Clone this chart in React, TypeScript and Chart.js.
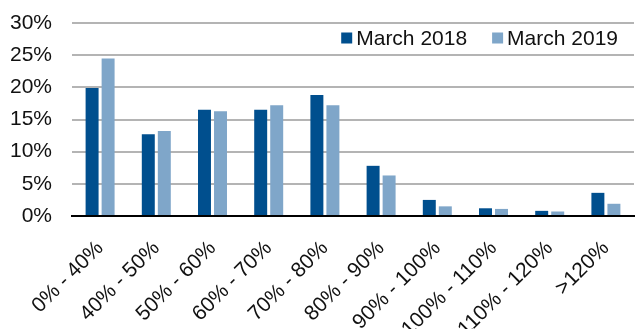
import React, { useEffect, useRef } from "react";
import { Chart, registerables } from "chart.js";

Chart.register(...registerables);

const categories = [
  "0% - 40%",
  "40% - 50%",
  "50% - 60%",
  "60% - 70%",
  "70% - 80%",
  "80% - 90%",
  "90% - 100%",
  "100% - 110%",
  "110% - 120%",
  ">120%",
];

const march2018 = [19.9, 12.7, 16.5, 16.5, 18.8, 7.8, 2.5, 1.2, 0.8, 3.6];
const march2019 = [24.5, 13.2, 16.3, 17.2, 17.2, 6.3, 1.5, 1.1, 0.7, 1.9];

const yTicks = [0, 5, 10, 15, 20, 25, 30];

const DARK = "#004F8E";
const LIGHT = "#7FA6C9";
const FONT = "'Liberation Sans', Arial, sans-serif";
const FONT_SIZE = 21;

// Legend drawn in the top-right corner of the plot area.
const cornerLegend = {
  id: "cornerLegend",
  afterDraw(chart: Chart) {
    const { ctx, chartArea } = chart;
    const sets = chart.data.datasets;
    ctx.save();
    ctx.font = `${FONT_SIZE}px ${FONT}`;
    ctx.textBaseline = "middle";
    const box = 11;
    const gap = 4;
    const spacing = 25;
    const widths = sets.map((d) => box + gap + ctx.measureText(String(d.label)).width);
    const total = widths.reduce((a, b) => a + b, 0) + spacing * (sets.length - 1);
    let x = chartArea.right - 16 - total;
    const cy = chartArea.top + 16;
    sets.forEach((d, i) => {
      ctx.fillStyle = String(d.backgroundColor);
      ctx.fillRect(x, cy - box / 2 - 1, box, box);
      ctx.fillStyle = "#111";
      ctx.fillText(String(d.label), x + box + gap, cy);
      x += widths[i] + spacing;
    });
    ctx.restore();
  },
};

export default function App() {
  const ref = useRef<HTMLCanvasElement>(null);

  useEffect(() => {
    if (!ref.current) return;
    const chart = new Chart(ref.current, {
      type: "bar",
      data: {
        labels: categories,
        datasets: [
          { label: "March 2018", data: march2018, backgroundColor: DARK },
          { label: "March 2019", data: march2019, backgroundColor: LIGHT },
        ],
      },
      options: {
        animation: false,
        responsive: false,
        maintainAspectRatio: false,
        layout: { padding: { top: 23, right: 1, left: 0, bottom: 0 } },
        datasets: {
          bar: { categoryPercentage: 0.57, barPercentage: 0.81 },
        },
        plugins: {
          legend: { display: false },
          tooltip: { enabled: false },
        },
        scales: {
          x: {
            grid: { display: false, drawTicks: false },
            border: { display: true, color: "#000", width: 2 },
            ticks: {
              color: "#111",
              font: { family: FONT, size: FONT_SIZE },
              minRotation: 45,
              maxRotation: 45,
              padding: 20,
              labelOffset: 0,
              autoSkip: false,
            },
            afterFit: (scale: any) => {
              scale.height = 113;
              scale.paddingLeft = 0;
              scale.paddingRight = 0;
            },
          },
          y: {
            min: 0,
            max: 30,
            afterBuildTicks: (scale: any) => {
              scale.ticks = yTicks.map((v) => ({ value: v }));
            },
            grid: { color: "#B4B4B4", lineWidth: 2, drawTicks: false },
            border: { display: false },
            ticks: {
              color: "#111",
              font: { family: FONT, size: FONT_SIZE },
              padding: 20,
              callback: (v: any) => `${v}%`,
            },
            afterFit: (scale: any) => {
              scale.width = 72;
              scale.paddingTop = 0;
              scale.paddingBottom = 0;
            },
          },
        },
      },
      plugins: [cornerLegend],
    });
    return () => chart.destroy();
  }, []);

  return (
    <div style={{ position: "fixed", left: 0, top: 0, width: 635, height: 329, background: "#fff" }}>
      <canvas ref={ref} width={635} height={329} style={{ width: 635, height: 329 }} />
    </div>
  );
}
